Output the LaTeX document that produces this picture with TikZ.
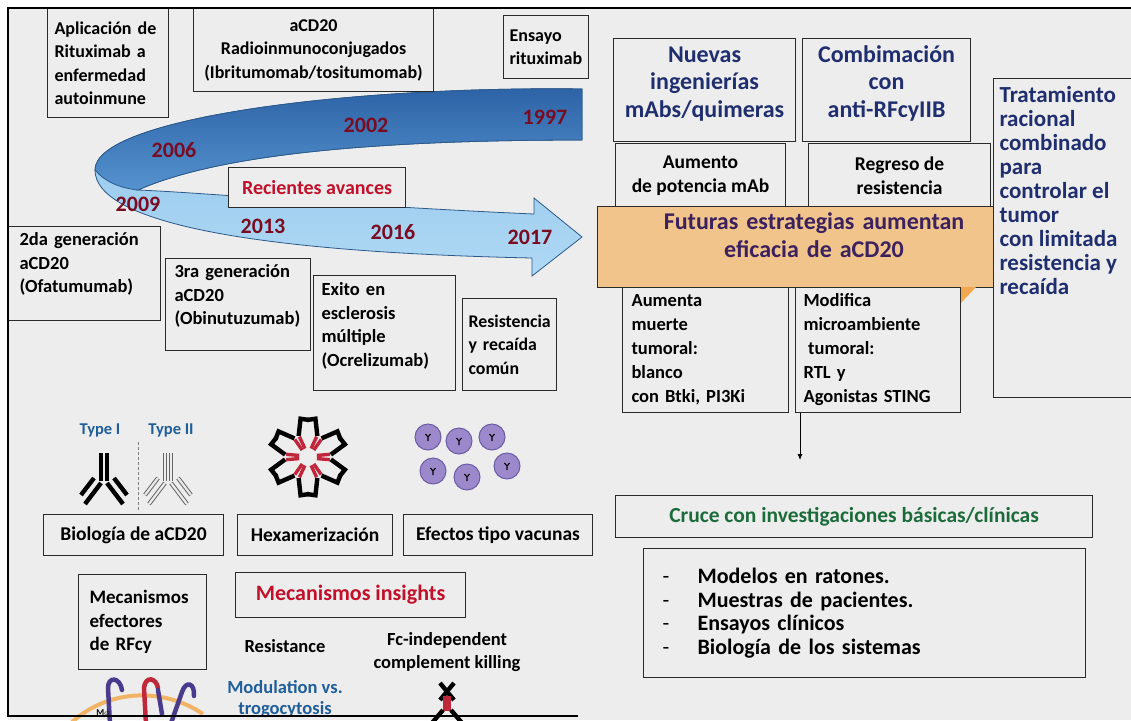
\documentclass[tikz,border=0pt]{standalone}
\usepackage{fontspec}
\setmainfont{Carlito}
\usetikzlibrary{arrows.meta}

\definecolor{fondo}{HTML}{EDEDED}
\definecolor{linea}{HTML}{2A2A2A}
\definecolor{anio}{HTML}{7A0C22}
\definecolor{rojo}{HTML}{C3102A}
\definecolor{marino}{HTML}{1F2E6E}
\definecolor{morado}{HTML}{3B215E}
\definecolor{verde}{HTML}{1C6B3A}
\definecolor{azultipo}{HTML}{1F5E9A}
\definecolor{naranja}{HTML}{F1C48C}
\definecolor{cintaoscA}{HTML}{2C62A6}
\definecolor{cintaoscB}{HTML}{5592CE}
\definecolor{cintaclaA}{HTML}{8CC2EA}
\definecolor{cintaclaB}{HTML}{B0D9F4}
\definecolor{cintaborde}{HTML}{2B5A8A}
\definecolor{celula}{HTML}{9C89CB}
\definecolor{celulaborde}{HTML}{6B5BA6}
\definecolor{fcrojo}{HTML}{C0273A}
\definecolor{receptor}{HTML}{4A3A8E}
\definecolor{membrana}{HTML}{F2A94E}

\newcommand\letra[2]{\fontsize{#1}{#2}\selectfont\bfseries}
\newcommand\guion{\makebox[35pt][l]{\mdseries -}}

\tikzset{
  caja/.style={draw=linea, fill=fondo, line width=1.1pt, inner sep=0pt,
    anchor=north west, align=center, font=\letra{18}{23.5}},
  cajaIzq/.style={caja, align=left},
  anio/.style={text=anio, font=\letra{22}{22}},
  texto/.style={font=\letra{18.5}{22.5}, align=center},
  tipo/.style={text=azultipo, font=\letra{16.5}{17}},
  marco/.style={draw=black, line width=1.4pt},
  cinta/.style={draw=cintaborde, line width=0.8pt},
  abI/.style={draw=black, line width=4.4pt},
  abII/.style={draw=gray!80!black, line width=1pt, double=white!85!gray, double distance=2.2pt},
  fc/.style={draw=fcrojo, line width=3.4pt},
  celulaest/.style={draw=celulaborde, fill=celula, line width=1pt},
  receptorest/.style={draw=receptor, line width=4.5pt, line cap=round},
  flecha/.style={-{Latex[length=6pt,width=5pt]}, line width=0.8pt}
}

\begin{document}
\begin{tikzpicture}[x=1pt, y=-1pt]
  \useasboundingbox (0,0) rectangle (1131,720);
  \fill[white] (0,0) rectangle (1131,720);
  \fill[fondo] (8,8) rectangle (1131,720);

  % cinta de la linea de tiempo: tramo claro y tramo oscuro
  \path[cinta, top color=cintaclaA, bottom color=cintaclaB]
    (582,89) .. controls (350,86) and (95,118) .. (95,170)
    .. controls (95,222) and (250,252) .. (532,258)
    -- (532,276) -- (582,237) -- (534,198) -- (534,214)
    .. controls (350,206) and (210,193) .. (138,190)
    .. controls (210,158) and (350,140) .. (582,140) -- cycle;
  \path[cinta, top color=cintaoscA, bottom color=cintaoscB]
    (582,89) .. controls (350,86) and (95,118) .. (95,170)
    .. controls (105,182) and (120,188) .. (138,190)
    .. controls (210,158) and (350,140) .. (582,140) -- cycle;

  \node[anio] (a1997) at (545,117) {1997};
  \node[anio] (a2002) at (366,125) {2002};
  \node[anio] (a2006) at (174,150) {2006};
  \node[anio] (a2009) at (138,204) {2009};
  \node[anio] (a2013) at (263,226) {2013};
  \node[anio] (a2016) at (393,232) {2016};
  \node[anio] (a2017) at (530,237) {2017};

  % hitos sobre y bajo la cinta
  \node[cajaIzq, minimum width=121pt, minimum height=109pt, text width=107pt] (aplicacion) at (47,8)
    {Aplicación de\\Rituximab a\\enfermedad\\autoinmune};
  \node[caja, minimum width=240pt, minimum height=83pt] (radio) at (193,8)
    {aCD20\\Radioinmunoconjugados\\(Ibritumomab/tositumomab)};
  \node[cajaIzq, minimum width=85pt, minimum height=63pt, text width=73pt] (ensayo) at (503,15)
    {Ensayo\\rituximab};
  \node[caja, minimum width=177pt, minimum height=40pt, text=rojo, font=\letra{20}{21}] (recientes) at (228,167)
    {Recientes avances};
  \node[cajaIzq, text width=130pt, inner xsep=11pt, text height=19pt, text depth=75pt, font=\letra{18.5}{23.5}] (segunda) at (8,226)
    {2da generación\\aCD20\\(Ofatumumab)};
  \node[cajaIzq, text width=127pt, inner xsep=9pt, text height=19pt, text depth=73pt, font=\letra{18.5}{23.5}] (tercera) at (165,258)
    {3ra generación\\aCD20\\(Obinutuzumab)};
  \node[cajaIzq, text width=126pt, inner xsep=8pt, text height=20pt, text depth=95pt, font=\letra{18.5}{23.5}] (exito) at (313,275)
    {Exito en\\esclerosis\\múltiple\\(Ocrelizumab)};
  \node[cajaIzq, minimum width=94pt, minimum height=92pt, text width=82pt, font=\letra{17.8}{23.5}] (recaida) at (462,298)
    {Resistencia\\y recaída\\común};

  % estrategias futuras
  \node[caja, text width=182pt, text height=23.5pt, text depth=79.5pt, text=marino, font=\letra{24}{27.5}] (nuevas) at (613,38)
    {Nuevas\\ingenierías\\mAbs/quimeras};
  \node[caja, text width=168pt, text height=23.5pt, text depth=79.5pt, text=marino, font=\letra{24}{27.5}] (combinacion) at (802,38)
    {Combimación\\con\\anti-RFcyIIB};
  \node[caja, minimum width=170pt, minimum height=64pt, font=\letra{19.5}{24}] (aumento) at (615,143)
    {Aumento\\de potencia mAb};
  \node[caja, minimum width=182pt, minimum height=64pt, font=\letra{19.5}{24}] (regreso) at (808,143)
    {Regreso de\\resistencia};
  \node[caja, text width=433pt, text height=23pt, text depth=58pt, fill=naranja, text=morado, font=\letra{24}{27.5}] (futuras) at (597,206)
    {Futuras estrategias aumentan\\eficacia de aCD20};
  \node[caja, inner xsep=6pt, inner ysep=8pt, text=marino, font=\letra{23}{24}] (tratamiento) at (993,78)
    {\parbox[t][303pt][t]{150pt}{\raggedright Tratamiento\\racional\\combinado\\para\\controlar el\\tumor\\con limitada\\resistencia y\\recaída}};
  \fill[membrana] (961,287) -- (976,287) -- (961,303) -- cycle;
  \node[cajaIzq, minimum width=166pt, minimum height=125pt, text width=148pt, font=\letra{18.5}{24}] (muerte) at (622,287)
    {Aumenta\\muerte\\tumoral:\\blanco\\con Btki, PI3Ki};
  \node[cajaIzq, minimum width=165pt, minimum height=125pt, text width=149pt, font=\letra{18.5}{24}] (modifica) at (795,287)
    {Modifica\\microambiente\\\hspace{0.25em}tumoral:\\RTL y\\Agonistas STING};

  \coordinate (flechafin) at (800,460);
  \draw[flecha] (modifica.south west -| flechafin) -- (flechafin);

  \node[caja, minimum width=477pt, minimum height=42pt, text=verde, font=\letra{21.5}{23}] (cruce) at (615,495)
    {Cruce con investigaciones básicas/clínicas};
  \node[cajaIzq, minimum width=442pt, minimum height=129pt, text width=404pt, font=\letra{22}{23.7}] (modelos) at (643,548)
    {\guion Modelos en ratones.\\\guion Muestras de pacientes.\\\guion Ensayos clínicos\\\guion Biología de los sistemas};

  % panel de mecanismos
  \node[tipo] (tipoI) at (100,430) {Type I};
  \node[tipo] (tipoII) at (171,430) {Type II};
  \draw[densely dashed, gray, line width=0.6pt] (138,442) -- (138,512);
  \foreach \ax/\estilo in {104/abI, 168/abII}{
    \begin{scope}[shift={(\ax,470)}]
      \draw[\estilo] (-3,-17) -- (-3,11);
      \draw[\estilo] (3,-17) -- (3,11);
      \draw[\estilo] (-3,13) -- (-19,34);
      \draw[\estilo] (-10,8) -- (-23,25);
      \draw[\estilo] (3,13) -- (19,34);
      \draw[\estilo] (10,8) -- (23,25);
    \end{scope}
  }

  \begin{scope}[shift={(308,457)}]
    \foreach \a in {0,60,...,300}{
      \draw[fc] (\a+10:9) -- (\a+7:22);
      \draw[fc] (\a-10:9) -- (\a-7:22);
      \draw[abI, line cap=butt, line join=miter] (\a+6:23) -- (\a+19:39) -- (\a+32:37);
      \draw[abI, line cap=butt, line join=miter] (\a-6:23) -- (\a-19:39) -- (\a-32:37);
    }
  \end{scope}

  \foreach \cx/\cy in {428/437, 459/441, 492/437, 433/471, 467/477, 507/466}{
    \draw[celulaest] (\cx,\cy) circle[radius=13pt];
    \draw[line width=1.1pt] (\cx-2.5,\cy-3) -- (\cx,\cy) -- (\cx+2.5,\cy-3) (\cx,\cy) -- (\cx,\cy+4);
  }

  \node[caja, minimum width=180pt, minimum height=41pt, font=\letra{19.5}{20}] (biologia) at (43,514) {Biología de aCD20};
  \node[caja, minimum width=155pt, minimum height=41pt, font=\letra{19.5}{20}] (hexamer) at (237,514) {Hexamerización};
  \node[caja, minimum width=189pt, minimum height=41pt, font=\letra{19.5}{20}] (vacunas) at (403,514) {Efectos tipo vacunas};
  \node[cajaIzq, minimum width=128pt, minimum height=95pt, text width=106pt, font=\letra{19}{23.5}] (efectores) at (78,574)
    {Mecanismos\\efectores\\de RFcy};
  \node[caja, minimum width=230pt, minimum height=45pt, text=rojo, font=\letra{22}{23}] (insights) at (235,572)
    {Mecanismos insights};

  \node[texto] (resistance) at (285,646) {Resistance};
  \node[texto] (fcindep) at (447,652) {Fc-independent\\complement killing};
  \node[texto, font=\letra{18.5}{21}, text=azultipo] (modulation) at (285,699) {Modulation vs.\\trogocytosis};

  % receptores Fc sobre la membrana
  \draw[draw=membrana, line width=4pt, opacity=0.85] (72,722) .. controls (110,688) and (165,688) .. (203,714);
  \draw[receptorest] (110,724) -- (108,688) .. controls (108,676) and (120,677) .. (122,690);
  \draw[receptorest, draw=fcrojo] (146,724) -- (144,688) .. controls (145,676) and (156,677) .. (158,688);
  \draw[receptorest] (158,690) -- (162,714);
  \draw[receptorest] (170,726) -- (182,692) .. controls (186,680) and (195,683) .. (194,696);
  \node[font=\letra{9}{10}] (mfi) at (103,713) {M$\phi$};

  % anticuerpo del complemento
  \draw[abI] (440,683) -- (454,700);
  \draw[abI] (454,683) -- (440,700);
  \fill[fcrojo] (443,696) rectangle (451,711);
  \draw[abI] (443,710) -- (426,730);
  \draw[abI] (451,710) -- (468,730);

  % marco
  \draw[marco] (1131,8) -- (8,8) -- (8,716) -- (578,716);
\end{tikzpicture}
\end{document}
